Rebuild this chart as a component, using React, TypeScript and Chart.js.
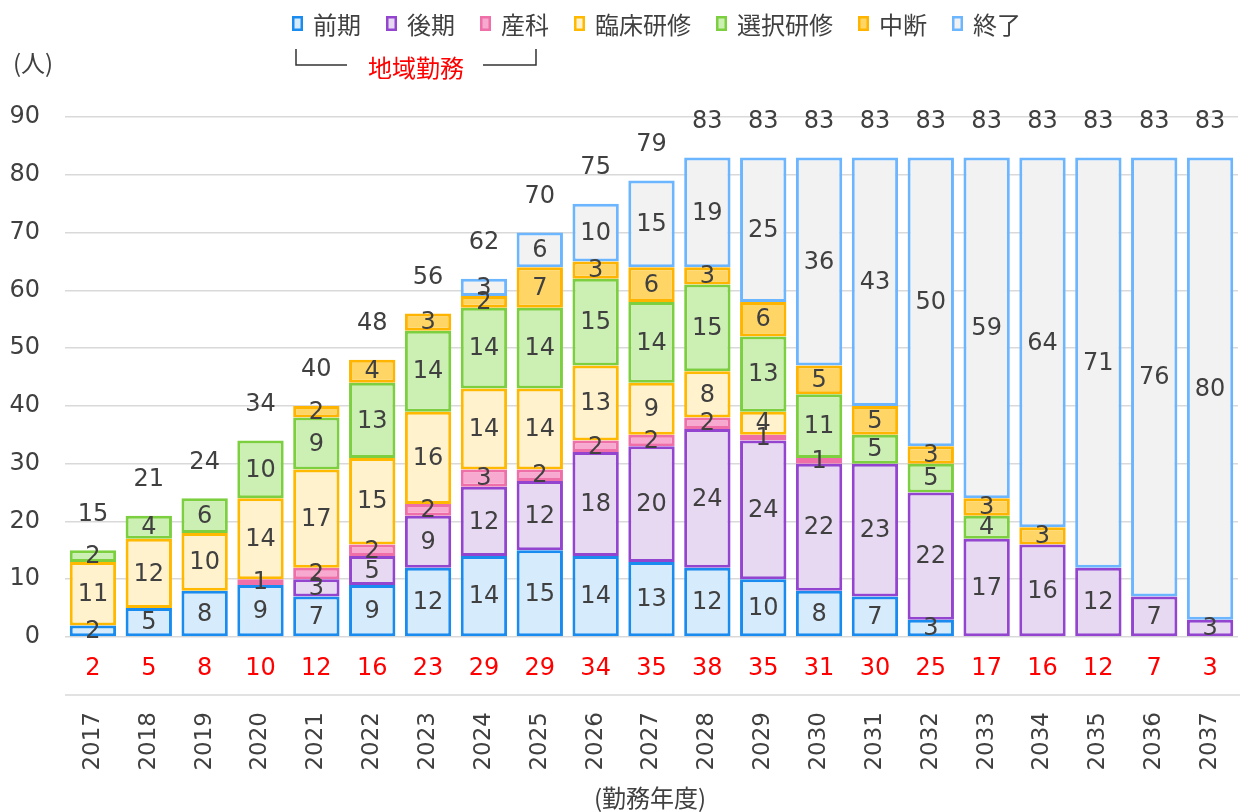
import React, { useEffect, useRef } from "react";
import { Chart, registerables } from "chart.js";

Chart.register(...registerables);

const years = ["2017","2018","2019","2020","2021","2022","2023","2024","2025","2026","2027","2028","2029","2030","2031","2032","2033","2034","2035","2036","2037"];
const zenki = [2,5,8,9,7,9,12,14,15,14,13,12,10,8,7,3,0,0,0,0,0];
const kouki = [0,0,0,0,3,5,9,12,12,18,20,24,24,22,23,22,17,16,12,7,3];
const sanka = [0,0,0,1,2,2,2,3,2,2,2,2,1,1,0,0,0,0,0,0,0];
const rinsho = [11,12,10,14,17,15,16,14,14,13,9,8,4,0,0,0,0,0,0,0,0];
const sentaku = [2,4,6,10,9,13,14,14,14,15,14,15,13,11,5,5,4,0,0,0,0];
const chudan = [0,0,0,0,2,4,3,2,7,3,6,3,6,5,5,3,3,3,0,0,0];
const shuryo = [0,0,0,0,0,0,0,3,6,10,15,19,25,36,43,50,59,64,71,76,80];
const totals = [15,21,24,34,40,48,56,62,70,75,79,83,83,83,83,83,83,83,83,83,83];
const localTotals = [2,5,8,10,12,16,23,29,29,34,35,38,35,31,30,25,17,16,12,7,3];

const FONT = "'DejaVu Sans', 'Noto Sans CJK JP', sans-serif";
const CJK = "'Noto Sans CJK JP', 'DejaVu Sans', sans-serif";
const TEXT = "#404040";

const seriesDefs = [
  { label: "前期", data: zenki, bg: "#d6ebfc", bd: "#1a8cf0" },
  { label: "後期", data: kouki, bg: "#e8d9f3", bd: "#9345d0" },
  { label: "産科", data: sanka, bg: "#f8a9cf", bd: "#ef6fa8" },
  { label: "臨床研修", data: rinsho, bg: "#fff2cc", bd: "#ffb900" },
  { label: "選択研修", data: sentaku, bg: "#ccefb4", bd: "#7ccf3f" },
  { label: "中断", data: chudan, bg: "#ffd666", bd: "#ffb400" },
  { label: "終了", data: shuryo, bg: "#f2f2f2", bd: "#6cb6ff" },
];

const overlayPlugin = {
  id: "overlay",
  afterDatasetsDraw(chart: any) {
    const ctx = chart.ctx as CanvasRenderingContext2D;
    const xs = chart.scales.x;
    const ys = chart.scales.y;
    const area = chart.chartArea;
    ctx.save();
    ctx.textAlign = "center";
    ctx.textBaseline = "middle";
    ctx.font = `24px ${FONT}`;
    ctx.fillStyle = TEXT;
    chart.data.datasets.forEach((ds: any, i: number) => {
      const meta = chart.getDatasetMeta(i);
      meta.data.forEach((bar: any, j: number) => {
        const v = ds.data[j];
        if (!v) return;
        const p = bar.getProps(["x", "y", "base"], true);
        ctx.fillText(String(v), p.x, (p.y + p.base) / 2 + 1);
      });
    });
    years.forEach((_, j) => {
      const x = xs.getPixelForValue(j);
      ctx.fillStyle = TEXT;
      ctx.fillText(String(totals[j]), x, ys.getPixelForValue(totals[j]) - 36);
      ctx.fillStyle = "#ff0000";
      ctx.fillText(String(localTotals[j]), x, area.bottom + 32);
    });
    // separator line under red row
    ctx.strokeStyle = "#d9d9d9";
    ctx.lineWidth = 1.5;
    ctx.beginPath();
    ctx.moveTo(area.left, area.bottom + 58);
    ctx.lineTo(area.right + 2, area.bottom + 58);
    ctx.stroke();

    // unit labels
    ctx.fillStyle = TEXT;
    ctx.font = `24px ${CJK}`;
    ctx.fillText("(人)", 33, 63);
    ctx.fillText("(勤務年度)", 650, 798);

    // legend
    ctx.textAlign = "left";
    ctx.font = `24px ${CJK}`;
    let lx = 292;
    const boxXs: number[] = [];
    const textEnds: number[] = [];
    seriesDefs.forEach((s) => {
      boxXs.push(lx);
      ctx.fillStyle = s.bg;
      ctx.fillRect(lx, 16, 11, 15);
      ctx.strokeStyle = s.bd;
      ctx.lineWidth = 2.5;
      ctx.strokeRect(lx + 1.25, 17.25, 8.5, 12.5);
      ctx.fillStyle = TEXT;
      ctx.fillText(s.label, lx + 21, 25);
      const w = ctx.measureText(s.label).width;
      textEnds.push(lx + 21 + w);
      lx += 21 + w + 25;
    });
    // bracket for 地域勤務
    const bl = boxXs[0] + 4;
    const br = textEnds[2] - 13;
    ctx.strokeStyle = "#333333";
    ctx.lineWidth = 1.5;
    ctx.beginPath();
    ctx.moveTo(bl, 49);
    ctx.lineTo(bl, 65);
    ctx.lineTo(bl + 51, 65);
    ctx.moveTo(br - 53, 65);
    ctx.lineTo(br, 65);
    ctx.lineTo(br, 49);
    ctx.stroke();
    ctx.fillStyle = "#ff0000";
    ctx.textAlign = "center";
    ctx.font = `24px ${CJK}`;
    ctx.fillText("地域勤務", (bl + br) / 2, 68);
    ctx.restore();
  },
};

export default function App() {
  const ref = useRef<HTMLCanvasElement>(null);
  useEffect(() => {
    if (!ref.current) return;
    const chart = new Chart(ref.current, {
      type: "bar",
      data: {
        labels: years,
        datasets: seriesDefs.map((s) => ({
          label: s.label,
          data: s.data,
          backgroundColor: s.bg,
          borderColor: s.bd,
          borderWidth: 3,
          borderSkipped: false,
          barPercentage: 0.83,
          categoryPercentage: 1,
        })),
      },
      options: {
        responsive: false,
        animation: false,
        devicePixelRatio: 1,
        layout: { padding: { top: 117, right: 3, left: 0, bottom: 0 } },
        plugins: { legend: { display: false }, tooltip: { enabled: false }, title: { display: false } },
        scales: {
          x: {
            stacked: true,
            grid: { display: false, drawTicks: false },
            border: { display: false },
            ticks: {
              autoSkip: false,
              minRotation: 90,
              maxRotation: 90,
              padding: 75,
              color: TEXT,
              font: { size: 23, family: FONT },
            },
            afterFit: (s: any) => {
              s.height = 175;
              s.paddingLeft = 0;
              s.paddingRight = 0;
            },
          },
          y: {
            stacked: true,
            min: 0,
            max: 90,
            ticks: { stepSize: 10, padding: 25, color: TEXT, font: { size: 24, family: FONT } },
            grid: { color: "#d9d9d9", lineWidth: 1.5, drawTicks: false },
            border: { display: false },
            afterFit: (s: any) => {
              s.width = 65;
              s.paddingTop = 0;
              s.paddingBottom = 0;
            },
          },
        },
      },
      plugins: [overlayPlugin],
    } as any);
    return () => chart.destroy();
  }, []);
  return (
    <div style={{ position: "absolute", left: 0, top: 0, width: 1241, height: 812, background: "#fff" }}>
      <canvas ref={ref} width={1241} height={812} style={{ width: 1241, height: 812, display: "block" }} />
    </div>
  );
}
